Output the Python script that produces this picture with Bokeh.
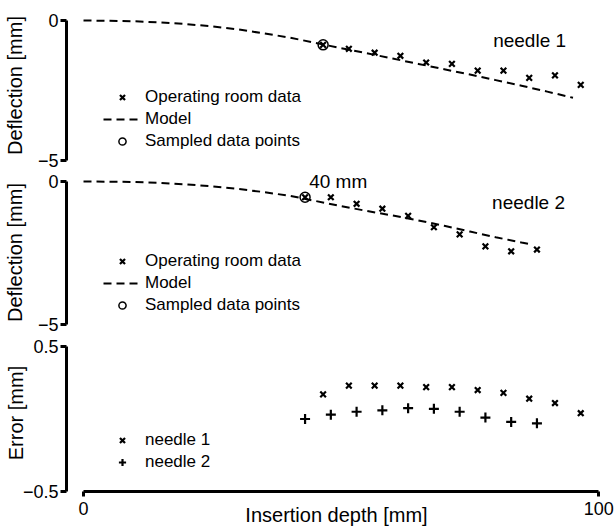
from bokeh.plotting import figure
from bokeh.models import Range1d, FixedTicker, Legend, LegendItem, Label
from bokeh.layouts import gridplot
from bokeh.embed import file_html
from bokeh.resources import INLINE

FONT = "Liberation Sans"

# ---- data (mm) ----
# needle 1
n1_depth = [46.5, 51.5, 56.5, 61.5, 66.5, 71.5, 76.5, 81.5, 86.5, 91.5, 96.5]
n1_defl = [-0.87, -1.01, -1.15, -1.26, -1.50, -1.55, -1.79, -1.79, -2.05, -1.96, -2.30]
n1_sample_depth = [46.5]
n1_sample_defl = [-0.87]
m1_depth = [0, 5, 10, 15, 20, 25, 30, 35, 40, 45, 50, 55, 60, 65, 70, 75, 80, 85, 90, 95]
m1_defl = [0, -0.01, -0.03, -0.07, -0.13, -0.21, -0.32, -0.46, -0.61, -0.80, -0.99,
           -1.17, -1.36, -1.55, -1.74, -1.93, -2.13, -2.33, -2.54, -2.76]
# needle 2
n2_depth = [43, 48, 53, 58, 63, 68, 73, 78, 83, 88]
n2_defl = [-0.55, -0.55, -0.78, -0.95, -1.20, -1.60, -1.85, -2.27, -2.44, -2.38]
n2_sample_depth = [43]
n2_sample_defl = [-0.55]
m2_depth = [0, 5, 10, 15, 20, 25, 30, 35, 40, 45, 50, 55, 60, 65, 70, 75, 80, 85, 87]
m2_defl = [0, -0.005, -0.02, -0.05, -0.10, -0.17, -0.26, -0.37, -0.50, -0.68, -0.86,
           -1.03, -1.19, -1.36, -1.55, -1.75, -1.95, -2.13, -2.20]
# errors
e1_depth = [46.5, 51.5, 56.5, 61.5, 66.5, 71.5, 76.5, 81.5, 86.5, 91.5, 96.5]
e1_err = [0.17, 0.23, 0.23, 0.23, 0.22, 0.22, 0.20, 0.18, 0.14, 0.11, 0.04]
e2_depth = [43, 48, 53, 58, 63, 68, 73, 78, 83, 88]
e2_err = [0.00, 0.03, 0.05, 0.06, 0.075, 0.07, 0.05, 0.01, -0.02, -0.03]

xr = Range1d(-3.3, 101.5)


def style_yaxis(p, lo, hi, label, standoff):
    ax = p.yaxis[0]
    ax.bounds = (lo, hi)
    ax.ticker = FixedTicker(ticks=[lo, hi])
    ax.axis_label = label
    ax.axis_label_standoff = standoff
    ax.axis_label_text_font = FONT
    ax.axis_label_text_font_size = "20px"
    ax.axis_label_text_font_style = "normal"
    ax.axis_label_text_color = "black"
    ax.major_label_text_font = FONT
    ax.major_label_text_font_size = "18px"
    ax.major_label_text_color = "black"
    ax.major_label_standoff = 2
    ax.axis_line_width = 3
    ax.axis_line_color = "black"
    ax.major_tick_line_width = 3
    ax.major_tick_line_color = "black"
    ax.major_tick_out = 6
    ax.major_tick_in = 0
    ax.minor_tick_line_color = None


def make_fig(yr, fh, show_x):
    p = figure(frame_width=540, frame_height=fh, x_range=xr, y_range=yr,
               output_backend="svg", toolbar_location=None,
               min_border_left=65, min_border_right=9, min_border_top=0,
               min_border_bottom=(38 if show_x else 0),
               x_axis_location=("below" if show_x else None))
    p.outline_line_color = None
    p.grid.visible = False
    p.background_fill_color = "white"
    p.border_fill_color = "white"
    return p


def make_legend(items):
    return Legend(items=items, location=(37, 19), orientation="vertical",
                  glyph_width=38, glyph_height=18, label_height=18, spacing=2,
                  label_standoff=4, padding=0, margin=0,
                  border_line_color=None, background_fill_alpha=0,
                  label_text_font=FONT, label_text_font_size="17px",
                  label_text_color="black")


def note(x, y, text):
    return Label(x=x, y=y, text=text, text_font=FONT, text_font_size="19px",
                 text_baseline="middle", text_align="left", text_color="black")


# ---- panel 1 ----
p1 = make_fig(Range1d(-5.357, 0.714), 170, False)
style_yaxis(p1, -5, 0, "Deflection [mm]", 9)
r_m1 = p1.line(m1_depth, m1_defl, line_color="black", line_width=2, line_dash="8 5")
r_d1 = p1.scatter(n1_depth, n1_defl, marker="x", size=8, line_width=2.2, line_color="black")
r_s1 = p1.scatter(n1_sample_depth, n1_sample_defl, marker="circle", size=10, line_width=1.5,
                  line_color="black", fill_alpha=0)
p1.add_layout(make_legend([
    LegendItem(label="Operating room data", renderers=[r_d1]),
    LegendItem(label="Model", renderers=[r_m1]),
    LegendItem(label="Sampled data points", renderers=[r_s1]),
]))
p1.add_layout(note(79.5, -0.71, "needle 1"))

# ---- panel 2 ----
p2 = make_fig(Range1d(-5.35, 0.385), 164, False)
style_yaxis(p2, -5, 0, "Deflection [mm]", 9)
r_m2 = p2.line(m2_depth, m2_defl, line_color="black", line_width=2, line_dash="8 5")
r_d2 = p2.scatter(n2_depth, n2_defl, marker="x", size=8, line_width=2.2, line_color="black")
r_s2 = p2.scatter(n2_sample_depth, n2_sample_defl, marker="circle", size=10, line_width=1.5,
                  line_color="black", fill_alpha=0)
p2.add_layout(make_legend([
    LegendItem(label="Operating room data", renderers=[r_d2]),
    LegendItem(label="Model", renderers=[r_m2]),
    LegendItem(label="Sampled data points", renderers=[r_s2]),
]))
p2.add_layout(note(79.3, -0.72, "needle 2"))
p2.add_layout(note(43.8, 0.0, "40 mm"))

# ---- panel 3 ----
p3 = make_fig(Range1d(-0.5, 0.583), 157, True)
style_yaxis(p3, -0.5, 0.5, "Error [mm]", -7)
r_e1 = p3.scatter(e1_depth, e1_err, marker="x", size=8, line_width=2.2, line_color="black")
r_e2 = p3.scatter(e2_depth, e2_err, marker="cross", size=10, line_width=2.2, line_color="black")
p3.add_layout(make_legend([
    LegendItem(label="needle 1", renderers=[r_e1]),
    LegendItem(label="needle 2", renderers=[r_e2]),
]))
xa = p3.xaxis[0]
xa.bounds = (0, 100)
xa.ticker = FixedTicker(ticks=[0, 100])
xa.axis_label = "Insertion depth [mm]"
xa.axis_label_standoff = -14
xa.axis_label_text_font = FONT
xa.axis_label_text_font_size = "20px"
xa.axis_label_text_font_style = "normal"
xa.axis_label_text_color = "black"
xa.major_label_text_font = FONT
xa.major_label_text_font_size = "18px"
xa.major_label_text_color = "black"
xa.major_label_standoff = 5
xa.axis_line_width = 3
xa.axis_line_color = "black"
xa.major_tick_line_width = 3
xa.major_tick_line_color = "black"
xa.major_tick_out = 5
xa.major_tick_in = 0
xa.minor_tick_line_color = None

grid = gridplot([[p1], [p2], [p3]], toolbar_location=None)

open("out.html", "w").write(file_html(grid, INLINE))
